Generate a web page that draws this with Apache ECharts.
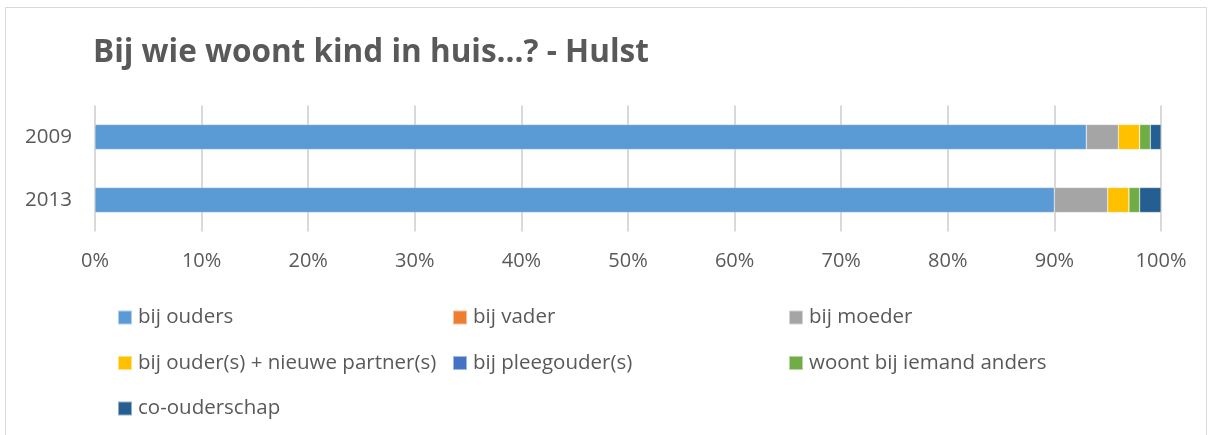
<!DOCTYPE html>
<html><head><meta charset="utf-8">
<script src="https://cdn.jsdelivr.net/npm/echarts@6/dist/echarts.min.js"></script>
<style>html,body{margin:0;padding:0;background:#fff}#c{width:1213px;height:435px}</style>
</head><body><div id="c"></div>
<script>
const categories = ['2009', '2013'];
const seriesNames = ['bij ouders', 'bij vader', 'bij moeder', 'bij ouder(s) + nieuwe partner(s)', 'bij pleegouder(s)', 'woont bij iemand anders', 'co-ouderschap'];
const bijOuders = [93, 90];
const bijVader = [0, 0];
const bijMoeder = [3, 5];
const nieuwePartner = [2, 2];
const pleegouder = [0, 0];
const iemandAnders = [1, 1];
const coOuderschap = [1, 2];
const tickLabels = ['0%', '10%', '20%', '30%', '40%', '50%', '60%', '70%', '80%', '90%', '100%'];
const colors = ['#5B9BD5', '#ED7D31', '#A5A5A5', '#FFC000', '#4472C4', '#70AD47', '#255E91'];
const values = [bijOuders, bijVader, bijMoeder, nieuwePartner, pleegouder, iemandAnders, coOuderschap];

const font = 'Open Sans, Noto Sans, sans-serif';
const chart = echarts.init(document.getElementById('c'));
const legendBase = {orient: 'vertical', itemWidth: 14, itemHeight: 14, itemGap: 24.5, icon: 'rect',
  textStyle: {fontFamily: font, fontSize: 20.5, color: '#595959', padding: [0, 0, 0, 1]}, selectedMode: false};
chart.setOption({
  animation: false,
  color: colors,
  title: {text: 'Bij wie woont kind in huis...? - Hulst', left: 88, top: 32,
    textStyle: {fontFamily: font, fontSize: 31.5, fontWeight: 'bold', color: '#595959'}},
  graphic: [{type: 'rect', shape: {x: 5.5, y: 7.5, width: 1201, height: 440}, style: {fill: 'none', stroke: '#d9d9d9', lineWidth: 1}}],
  grid: {left: 95, right: 52, top: 105.5, bottom: 203.5},
  xAxis: {type: 'value', min: 0, max: 100, interval: 10,
    axisLine: {show: false}, axisTick: {show: false},
    splitLine: {lineStyle: {color: '#d9d9d9', width: 2}},
    axisLabel: {margin: 20, fontFamily: font, fontSize: 20, color: '#595959',
      formatter: v => tickLabels[Math.round(v / 10)]}},
  yAxis: {type: 'category', data: categories, inverse: true,
    axisLine: {show: false}, axisTick: {show: false},
    axisLabel: {margin: 23, fontFamily: font, fontSize: 20.5, color: '#595959'}},
  legend: [
    Object.assign({}, legendBase, {left: 112, top: 302, data: [seriesNames[0], seriesNames[3], seriesNames[6]]}),
    Object.assign({}, legendBase, {left: 447, top: 302, data: [seriesNames[1], seriesNames[4]]}),
    Object.assign({}, legendBase, {left: 783, top: 302, data: [seriesNames[2], seriesNames[5]]})
  ],
  series: seriesNames.map((n, i) => ({
    name: n, type: 'bar', stack: 'total', barWidth: 25, data: values[i],
    itemStyle: {color: colors[i], borderColor: 'rgba(255,255,255,0.5)', borderWidth: 0.5}
  }))
});
</script></body></html>
